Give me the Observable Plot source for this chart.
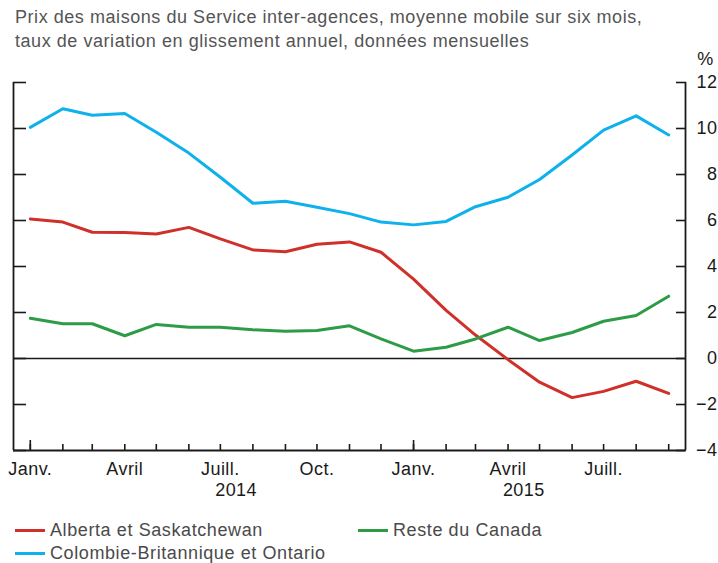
<!DOCTYPE html>
<html><head><meta charset="utf-8">
<script src="https://cdn.jsdelivr.net/npm/d3@7"></script>
<script src="https://cdn.jsdelivr.net/npm/@observablehq/plot@0.6"></script>
<style>
body{margin:0;background:#fff;font-family:"Liberation Sans",Arial,Helvetica,sans-serif;}
#wrap{position:relative;width:718px;height:563px;overflow:hidden;}
#chart{position:absolute;left:0;top:0;}
#chart svg text{letter-spacing:0.45px;}
#title{position:absolute;left:15px;top:5px;font-size:18px;line-height:24px;color:#555;letter-spacing:0.55px;white-space:nowrap;}
.leg{position:absolute;font-size:18px;color:#4a4a4a;display:flex;align-items:center;height:22px;letter-spacing:0.6px;white-space:nowrap;}
.sw{width:30px;height:3px;margin-right:5px;}
</style></head>
<body><div id="wrap"><div id="chart"></div>
<div id="title">Prix des maisons du Service inter-agences, moyenne mobile sur six mois,<br>taux de variation en glissement annuel, données mensuelles</div>
<div id="legend"></div></div>
<script>
const months = ["2014-01-01","2014-02-01","2014-03-01","2014-04-01","2014-05-01","2014-06-01","2014-07-01","2014-08-01","2014-09-01","2014-10-01","2014-11-01","2014-12-01","2015-01-01","2015-02-01","2015-03-01","2015-04-01","2015-05-01","2015-06-01","2015-07-01","2015-08-01","2015-09-01"];
const alberta  = [6.07,5.93,5.49,5.48,5.41,5.70,5.20,4.72,4.64,4.97,5.07,4.62,3.45,2.09,1.02,-0.05,-1.03,-1.70,-1.43,-0.99,-1.52];
const colombie = [10.05,10.86,10.58,10.65,9.84,8.93,7.88,6.75,6.84,6.58,6.30,5.93,5.81,5.96,6.60,7.01,7.78,8.85,9.93,10.55,9.72];
const reste    = [1.75,1.51,1.51,0.99,1.48,1.36,1.36,1.25,1.19,1.22,1.42,0.85,0.32,0.49,0.85,1.36,0.78,1.13,1.62,1.87,2.71];
const seriesNames = ["Alberta et Saskatchewan","Colombie-Britannique et Ontario","Reste du Canada"];
const colors = ["#d0302a","#0db1ec","#2e9c46"];
const yTicks = [-4,-2,0,2,4,6,8,10,12];
const monthLabels = {0:"Janv.",3:"Avril",6:"Juill.",9:"Oct."};
const yearLabels = ["2014","2015"];
const yearLabelDates = ["2014-07-16","2015-04-16"];
const domainStart = "2013-12-16", domainEnd = "2015-09-17";

const parse = d3.utcParse("%Y-%m-%d");
const dates = months.map(parse);
const values = [alberta, colombie, reste];
const rows = [];
values.forEach((vals, s) => vals.forEach((v, i) => rows.push({date: dates[i], value: v, series: seriesNames[s]})));
const x0 = parse(domainStart), x1 = parse(domainEnd);
const janTicks = dates.filter(d => d.getUTCMonth() === 0);
const labelTicks = dates.filter(d => d.getUTCMonth() % 3 === 0);
const years = yearLabels.map((l, i) => ({label: l, date: parse(yearLabelDates[i])}));
const ink = "#1a1a1a";

const chart = Plot.plot({
  width: 718, height: 515,
  marginTop: 82, marginBottom: 65, marginLeft: 13, marginRight: 33,
  style: {fontFamily: '"Liberation Sans",Arial,Helvetica,sans-serif', fontSize: "18px", color: ink, background: "transparent"},
  x: {type: "utc", domain: [x0, x1]},
  y: {domain: [-4, 12]},
  color: {domain: seriesNames, range: colors},
  marks: [
    Plot.axisY({anchor: "left", ticks: yTicks, tickSize: 13, dx: 13, tickFormat: () => "", label: null, strokeWidth: 1.6, stroke: ink}),
    Plot.axisY({anchor: "right", ticks: yTicks, tickSize: 10, dx: -10, tickFormat: () => "", label: null, strokeWidth: 1.6, stroke: ink}),
    Plot.axisY({anchor: "right", ticks: yTicks, tickSize: 0, tickPadding: 32, textAnchor: "end", label: null, fill: ink}),
    Plot.axisX({anchor: "bottom", ticks: dates, tickSize: 6, dy: -6, tickFormat: () => "", label: null, strokeWidth: 1.6, stroke: ink}),
    Plot.axisX({anchor: "bottom", ticks: janTicks, tickSize: 10, dy: -10, tickFormat: () => "", label: null, strokeWidth: 1.6, stroke: ink}),
    Plot.axisX({anchor: "bottom", ticks: labelTicks, tickSize: 0, tickPadding: 12, tickFormat: d => monthLabels[d.getUTCMonth()], label: null, fill: ink}),
    Plot.text(years, {x: "date", text: "label", frameAnchor: "bottom", dy: 33, lineAnchor: "top", fill: ink}),
    Plot.text(["%"], {frameAnchor: "top-right", dx: 20, dy: -30, textAnchor: "middle", fill: ink}),
    Plot.ruleX([x0, x1], {stroke: ink, strokeWidth: 1.8}),
    Plot.ruleY([-4], {stroke: ink, strokeWidth: 1.8}),
    Plot.ruleY([0], {stroke: ink, strokeWidth: 1.4}),
    Plot.line(rows, {x: "date", y: "value", z: "series", stroke: "series", strokeWidth: 3})
  ]
});
document.getElementById("chart").appendChild(chart);

const legendPos = [{left: 15, top: 519}, {left: 15, top: 542}, {left: 358, top: 519}];
const leg = document.getElementById("legend");
seriesNames.forEach((name, i) => {
  const div = document.createElement("div");
  div.className = "leg";
  div.style.left = legendPos[i].left + "px";
  div.style.top = legendPos[i].top + "px";
  const sw = document.createElement("span");
  sw.className = "sw"; sw.style.background = colors[i];
  div.appendChild(sw);
  div.appendChild(document.createTextNode(name));
  leg.appendChild(div);
});
</script></body></html>
